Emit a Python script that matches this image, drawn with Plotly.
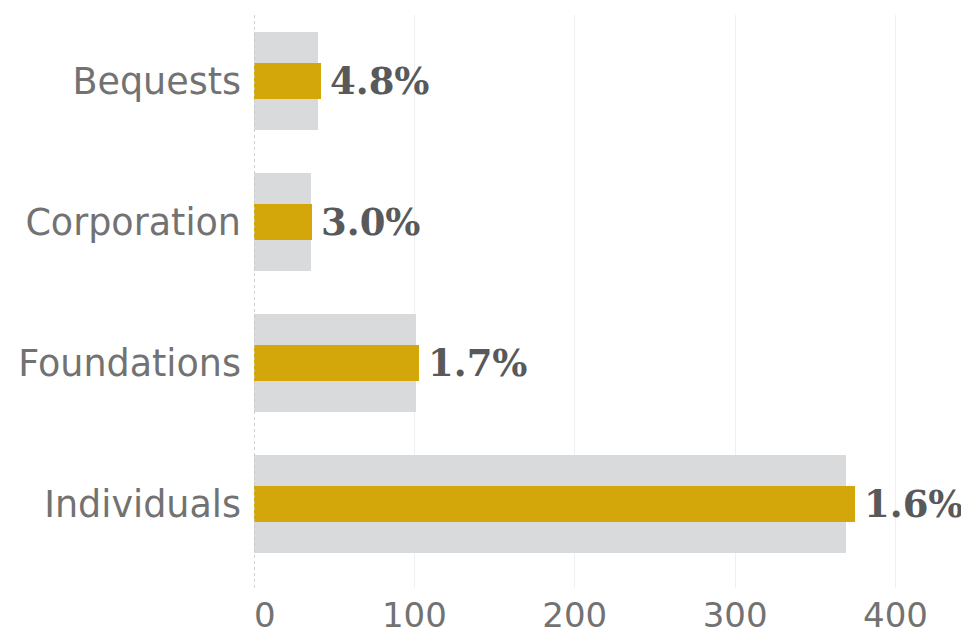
import plotly.graph_objects as go

categories = ["Individuals", "Foundations", "Corporation", "Bequests"]
prev_values = [368.8, 101.3, 35.6, 40.2]
curr_values = [375.0, 103.1, 36.3, 41.9]
growth_labels = ["1.6%", "1.7%", "3.0%", "4.8%"]
x_tick_vals = [0, 100, 200, 300, 400]
x_tick_text = ["\u00a0\u00a00", "100", "200", "300", "400"]

GOLD = "#d3a709"
GREY = "#d9dadc"

fig = go.Figure()
fig.add_trace(go.Bar(
    y=categories, x=prev_values, orientation="h",
    marker=dict(color=GREY, line=dict(width=0)),
    width=0.7, hoverinfo="skip", showlegend=False,
))
fig.add_trace(go.Bar(
    y=categories, x=curr_values, orientation="h",
    marker=dict(color=GOLD, line=dict(width=0)),
    width=0.255, hoverinfo="skip", showlegend=False,
))

for cat, v, lab in zip(categories, curr_values, growth_labels):
    fig.add_annotation(
        x=v, y=cat, text=lab, showarrow=False,
        xanchor="left", yanchor="middle", xshift=7,
        font=dict(family="Georgia, DejaVu Serif", size=37, color="#58595b",
                  weight="bold"),
    )

fig.add_shape(
    type="line", xref="x", yref="paper", x0=0, x1=0, y0=0, y1=1,
    line=dict(color="#c4c4c4", width=1.5, dash="dot"), layer="above",
)

fig.update_layout(
    width=961, height=628,
    margin=dict(l=246, r=0, t=7, b=48, autoexpand=False),
    paper_bgcolor="white", plot_bgcolor="white",
    barmode="overlay", bargap=0,
    font=dict(family="DejaVu Sans", color="#707070"),
    xaxis=dict(
        range=[0, 445.8], tickvals=x_tick_vals, ticktext=x_tick_text,
        showgrid=True, gridcolor="#efefef", gridwidth=1,
        zeroline=False, showline=False, ticks="",
        tickfont=dict(family="DejaVu Sans", size=34, color="#727272"),
        ticklabelstandoff=4, automargin=False,
    ),
    yaxis=dict(
        categoryorder="array", categoryarray=categories,
        range=[-0.596, 3.468],
        showgrid=False, zeroline=False, showline=False, ticks="",
        tickfont=dict(family="DejaVu Sans", size=36.5, color="#727272"),
        ticklabelstandoff=12, automargin=False,
    ),
)

fig.write_html("out.html")
